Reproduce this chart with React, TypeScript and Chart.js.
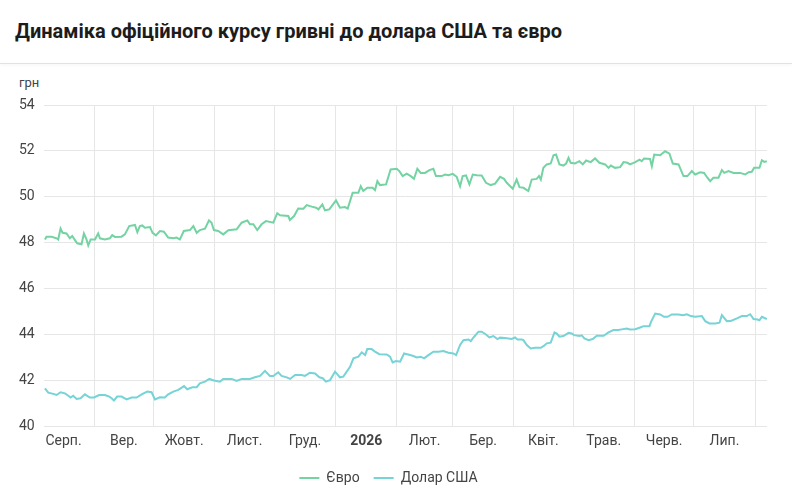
import React, { useEffect, useRef } from "react";
import { Chart, registerables } from "chart.js";

Chart.register(...registerables);

// Day offsets counted from 1 Aug 2025
const monthStarts = [0, 31, 61, 92, 122, 153, 184, 212, 243, 273, 304, 334, 365];
const monthLabels = ["Серп.", "Вер.", "Жовт.", "Лист.", "Груд.", "2026", "Лют.", "Бер.", "Квіт.", "Трав.", "Черв.", "Лип."];
const yTicks = [40, 42, 44, 46, 48, 50, 52, 54];
const seriesNames = ["Євро", "Долар США"];

const euroDays = [
  6.1, 6.9, 9.5, 12.0, 12.8, 14.0, 15.0, 17.0, 18.7, 19.9, 21.2, 22.4, 24.6, 25.8, 27.1, 28.0, 29.2, 31.4, 33.0, 33.9,
  36.4, 38.9, 40.1, 41.5, 44.8, 46.5, 48.7, 51.6, 52.8, 54.1, 55.3, 56.6, 59.2, 60.5, 62.2, 64.2, 66.2, 68.4, 71.0, 72.6,
  74.3, 76.3, 79.4, 81.1, 82.8, 84.4, 87.0, 89.0, 90.3, 91.5, 93.7, 96.2, 98.8, 103.0, 105.5, 108.4, 109.7, 111.4, 113.4, 115.6,
  117.8, 121.5, 123.5, 124.9, 129.1, 129.9, 132.0, 134.1, 136.7, 138.4, 140.9, 143.1, 144.3, 146.3, 147.6, 149.8, 153.2, 155.2, 157.7, 159.1,
  161.6, 164.5, 165.7, 167.0, 169.0, 171.7, 172.9, 174.1, 175.4, 178.5, 180.8, 183.9, 185.2, 186.9, 188.9, 191.0, 192.6, 194.3, 196.0, 198.2,
  200.4, 202.4, 203.7, 206.6, 208.3, 210.0, 212.2, 214.2, 215.9, 217.2, 218.9, 220.6, 222.3, 224.3, 226.8, 229.0, 231.4, 233.6, 236.1, 238.1,
  239.5, 242.5, 244.5, 245.9, 247.9, 250.4, 252.1, 254.6, 255.8, 256.7, 258.0, 259.7, 261.7, 263.1, 264.4, 266.1, 268.1, 269.5, 270.7, 271.8,
  274.0, 276.2, 277.9, 279.6, 281.9, 284.1, 286.3, 289.2, 290.9, 292.1, 294.2, 296.8, 298.5, 300.5, 301.8, 304.4, 306.6, 307.7, 308.9, 311.9,
  312.8, 314.0, 317.0, 319.5, 321.7, 323.4, 326.3, 328.8, 330.8, 333.0, 334.7, 337.2, 339.2, 340.9, 342.3, 343.9, 346.5, 348.2, 349.4, 351.5,
  354.1, 357.4, 360.0, 361.7, 363.3, 364.5, 367.2, 368.4, 369.6, 370.9,
];
const euroValues = [
  48.14, 48.26, 48.26, 48.19, 48.14, 48.61, 48.43, 48.40, 48.19, 48.29, 48.12, 47.97, 47.93, 48.40, 48.14, 47.88, 48.14, 48.14, 48.40, 48.19,
  48.14, 48.19, 48.33, 48.25, 48.26, 48.36, 48.72, 48.77, 48.46, 48.72, 48.75, 48.65, 48.68, 48.43, 48.32, 48.51, 48.48, 48.22, 48.19, 48.22,
  48.14, 48.51, 48.55, 48.72, 48.43, 48.55, 48.61, 48.97, 48.87, 48.55, 48.51, 48.36, 48.54, 48.58, 48.87, 48.97, 48.80, 48.80, 48.55, 48.80,
  48.94, 48.87, 49.28, 49.19, 49.16, 48.99, 49.16, 49.49, 49.48, 49.64, 49.57, 49.52, 49.45, 49.67, 49.41, 49.45, 49.84, 49.52, 49.55, 49.49,
  50.17, 50.17, 50.46, 50.25, 50.39, 50.39, 50.29, 50.68, 50.51, 50.54, 51.19, 51.22, 51.12, 50.90, 51.01, 50.90, 50.78, 51.22, 51.04, 51.04,
  51.16, 51.22, 50.90, 50.90, 50.97, 50.94, 51.00, 50.87, 50.46, 50.90, 50.93, 50.54, 50.97, 50.94, 50.93, 50.61, 50.51, 50.57, 50.87, 50.78,
  50.61, 50.35, 50.75, 50.42, 50.39, 50.25, 50.75, 50.78, 50.90, 50.75, 51.26, 51.41, 51.45, 51.81, 51.84, 51.41, 51.36, 51.45, 51.70, 51.48,
  51.45, 51.55, 51.41, 51.58, 51.51, 51.67, 51.48, 51.41, 51.26, 51.36, 51.26, 51.29, 51.51, 51.48, 51.41, 51.51, 51.62, 51.55, 51.67, 51.65,
  51.33, 51.84, 51.81, 51.99, 51.88, 51.45, 51.41, 50.90, 50.90, 51.12, 50.97, 51.07, 51.04, 50.83, 50.68, 50.83, 50.83, 51.16, 51.04, 51.12,
  51.04, 51.04, 50.97, 51.07, 51.09, 51.26, 51.26, 51.59, 51.52, 51.55,
];

const usdDays = [
  6.1, 7.8, 10.3, 12.0, 14.0, 16.2, 17.4, 19.1, 20.4, 22.1, 24.1, 26.3, 28.8, 30.9, 33.5, 36.4, 38.6, 39.8, 41.0, 42.6,
  44.8, 47.4, 49.9, 52.4, 55.0, 57.8, 60.0, 61.7, 64.2, 66.7, 68.4, 71.0, 73.5, 76.4, 78.0, 80.6, 82.8, 84.4, 87.0, 89.2,
  91.5, 94.5, 96.2, 100.5, 103.0, 105.5, 109.7, 112.2, 114.8, 117.3, 119.8, 121.5, 124.0, 125.7, 128.3, 130.0, 132.5, 135.8, 137.5, 140.0,
  142.6, 144.8, 146.5, 148.1, 150.2, 152.7, 155.2, 156.9, 160.3, 162.0, 164.5, 166.2, 167.9, 169.0, 171.2, 172.9, 175.1, 178.8, 180.5, 181.8,
  183.5, 185.6, 187.6, 190.6, 192.3, 194.0, 196.0, 197.7, 199.9, 202.4, 204.9, 207.5, 210.0, 212.5, 213.9, 215.9, 217.6, 220.1, 221.3, 223.0,
  225.2, 226.8, 229.0, 230.7, 232.7, 234.8, 236.1, 239.5, 242.0, 243.7, 244.9, 247.1, 247.9, 249.6, 251.6, 253.8, 256.7, 258.4, 259.7, 261.7,
  263.6, 264.8, 266.1, 268.1, 270.7, 272.3, 273.5, 276.2, 277.4, 278.7, 280.8, 282.9, 285.0, 288.4, 290.9, 293.4, 295.9, 297.6, 300.1, 301.8,
  304.4, 306.9, 308.6, 311.6, 312.4, 314.5, 317.0, 319.0, 320.7, 322.9, 326.3, 328.5, 330.5, 332.5, 334.7, 338.1, 339.8, 341.9, 344.8, 347.0,
  348.2, 350.7, 352.7, 355.8, 358.3, 360.8, 362.5, 364.2, 366.2, 367.2, 368.4, 370.9,
];
const usdValues = [
  41.65, 41.46, 41.41, 41.36, 41.48, 41.43, 41.36, 41.25, 41.33, 41.19, 41.22, 41.39, 41.25, 41.25, 41.36, 41.36, 41.29, 41.22, 41.12, 41.29,
  41.29, 41.17, 41.25, 41.25, 41.39, 41.51, 41.48, 41.17, 41.26, 41.25, 41.39, 41.51, 41.58, 41.75, 41.61, 41.70, 41.70, 41.87, 41.94, 42.06,
  41.99, 41.94, 42.06, 42.06, 41.97, 42.06, 42.06, 42.13, 42.19, 42.41, 42.19, 42.19, 42.35, 42.19, 42.13, 42.06, 42.23, 42.23, 42.19, 42.33,
  42.30, 42.13, 42.09, 41.94, 42.01, 42.38, 42.13, 42.16, 42.59, 42.96, 43.03, 43.22, 43.10, 43.36, 43.36, 43.25, 43.14, 43.13, 43.03, 42.78,
  42.84, 42.81, 43.17, 43.10, 43.06, 43.00, 43.03, 42.96, 43.10, 43.25, 43.25, 43.28, 43.20, 43.17, 43.10, 43.54, 43.75, 43.78, 43.71, 43.90,
  44.12, 44.12, 44.00, 43.87, 43.93, 43.80, 43.86, 43.83, 43.80, 43.87, 43.78, 43.78, 43.75, 43.54, 43.39, 43.42, 43.42, 43.51, 43.61, 43.64,
  44.09, 44.04, 43.90, 43.93, 44.07, 44.04, 43.97, 43.93, 43.96, 43.83, 43.75, 43.80, 43.94, 43.94, 44.09, 44.19, 44.19, 44.22, 44.26, 44.22,
  44.23, 44.30, 44.36, 44.36, 44.55, 44.91, 44.87, 44.77, 44.77, 44.87, 44.87, 44.84, 44.88, 44.80, 44.77, 44.80, 44.58, 44.48, 44.48, 44.51,
  44.84, 44.58, 44.59, 44.70, 44.80, 44.80, 44.88, 44.67, 44.65, 44.62, 44.77, 44.67,
];

const X_MIN = 5.5;
const X_MAX = 371;

export default function App() {
  const canvasRef = useRef<HTMLCanvasElement | null>(null);

  useEffect(() => {
    if (!canvasRef.current) return;
    const labelPositions = monthStarts.slice(0, -1).map((s, i) => (s + monthStarts[i + 1]) / 2);
    const visibleLabels = labelPositions
      .map((v, i) => ({ v, label: monthLabels[i] }))
      .filter((t) => t.v >= X_MIN && t.v <= X_MAX);
    const gridPositions = monthStarts.filter((v) => v > X_MIN && v < X_MAX);

    const chart = new Chart(canvasRef.current, {
      type: "line",
      data: {
        datasets: [
          {
            label: seriesNames[0],
            data: euroDays.map((d, i) => ({ x: d, y: euroValues[i] })),
            borderColor: "#74d3a2",
            backgroundColor: "#74d3a2",
            borderWidth: 2,
            pointRadius: 0,
            tension: 0,
          },
          {
            label: seriesNames[1],
            data: usdDays.map((d, i) => ({ x: d, y: usdValues[i] })),
            borderColor: "#76d3d6",
            backgroundColor: "#76d3d6",
            borderWidth: 2,
            pointRadius: 0,
            tension: 0,
          },
        ],
      },
      options: {
        animation: false,
        responsive: false,
        layout: { padding: { top: 35, left: 10, right: 25, bottom: 5 } },
        plugins: {
          legend: {
            position: "bottom",
            labels: {
              usePointStyle: true,
              pointStyle: "line",
              pointStyleWidth: 20,
              color: "#444",
              font: { family: "Roboto", size: 14 },
              padding: 14,
            },
          },
          tooltip: { enabled: false },
        },
        scales: {
          x: {
            type: "linear",
            min: X_MIN,
            max: X_MAX,
            position: "bottom",
            border: { display: false },
            grid: { color: "#e6e6e6", drawTicks: false },
            ticks: { display: false },
            afterBuildTicks: (axis: any) => {
              axis.ticks = gridPositions.map((v) => ({ value: v }));
            },
          },
          x2: {
            type: "linear",
            min: X_MIN,
            max: X_MAX,
            position: "bottom",
            border: { display: false },
            grid: { display: false, drawTicks: false },
            afterBuildTicks: (axis: any) => {
              axis.ticks = visibleLabels.map((t) => ({ value: t.v }));
            },
            ticks: {
              autoSkip: false,
              maxRotation: 0,
              padding: 7,
              color: "#444",
              callback: (_v: any, i: number) => visibleLabels[i] ? visibleLabels[i].label : "",
              font: (ctx: any) => ({
                family: "Roboto",
                size: 14,
                weight: visibleLabels[ctx.index] && visibleLabels[ctx.index].label === "2026" ? "bold" : "normal",
              }),
            },
          },
          y: {
            min: 40,
            max: 54,
            border: { display: false },
            grid: { color: "#e6e6e6", drawTicks: false },
            afterBuildTicks: (axis: any) => {
              axis.ticks = yTicks.map((v) => ({ value: v }));
            },
            ticks: {
              padding: 9,
              color: "#444",
              font: { family: "Roboto", size: 14 },
            },
          },
        },
      },
    });
    return () => chart.destroy();
  }, []);

  return (
    <div style={{ position: "absolute", left: 0, top: 0, width: 792, height: 500, background: "#fff", fontFamily: "Roboto" }}>
      <div
        style={{
          position: "absolute",
          left: 15,
          top: 18,
          fontSize: 20,
          lineHeight: "26px",
          fontWeight: 700,
          color: "#1c1c1c",
          whiteSpace: "nowrap",
        }}
      >
        Динаміка офіційного курсу гривні до долара США та євро
      </div>
      <div
        style={{
          position: "absolute",
          left: 0,
          top: 63,
          width: 792,
          height: 1,
          background: "#e2e2e2",
          boxShadow: "0 1px 3px rgba(0,0,0,0.08)",
        }}
      />
      <div style={{ position: "absolute", left: 19, top: 74, fontSize: 13, lineHeight: "18px", color: "#444" }}>грн</div>
      <canvas
        ref={canvasRef}
        width={792}
        height={430}
        style={{ position: "absolute", left: 0, top: 70, width: 792, height: 430 }}
      />
    </div>
  );
}
